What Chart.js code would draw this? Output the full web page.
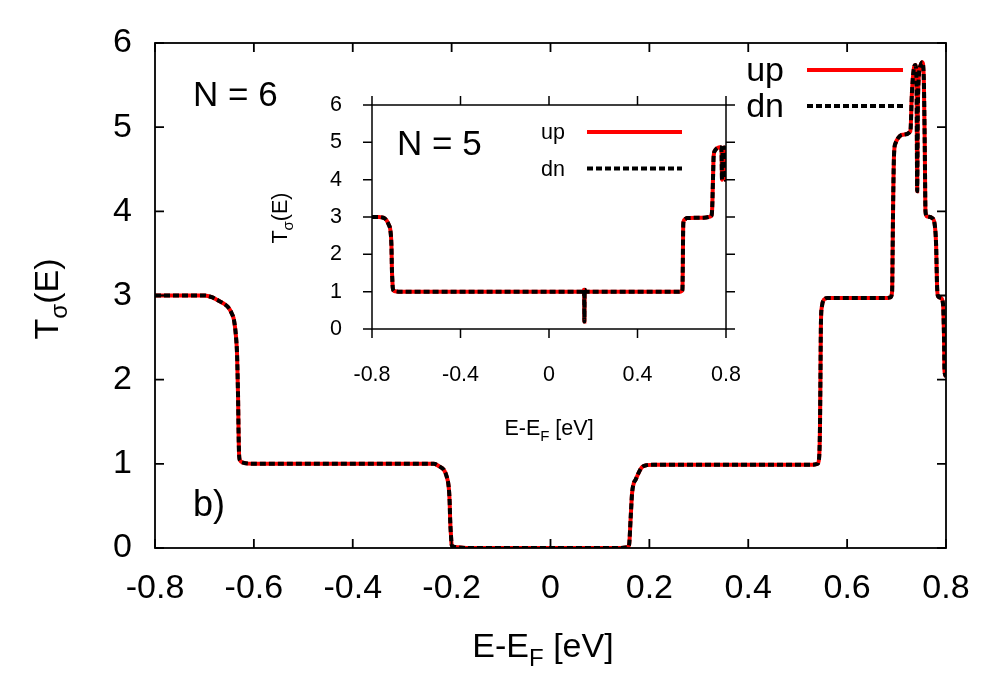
<!DOCTYPE html>
<html><head><meta charset="utf-8">
<script src="https://cdn.jsdelivr.net/npm/chart.js@4"></script>
<style>
html,body{margin:0;padding:0;background:#fff;}
#wrap{position:relative;width:1000px;height:700px;overflow:hidden;background:#fff;}
canvas{position:absolute;}
</style></head><body>
<div id="wrap">
<canvas id="main" width="1000" height="700" style="left:0;top:0"></canvas>
<canvas id="inset" width="510" height="370" style="left:250px;top:80px"></canvas>
</div>
<script>
// ---------- data: N = 6 (main panel) ----------
const energyN6 = [-0.800,-0.700,-0.685,-0.675,-0.660,-0.652,-0.645,-0.640,-0.636,-0.634,-0.632,-0.631,-0.630,-0.628,-0.622,-0.600,
  -0.400,-0.250,-0.236,-0.225,-0.216,-0.210,-0.206,-0.204,-0.203,-0.201,-0.200,-0.196,-0.190,-0.170,
  0.000,0.140,0.155,0.159,0.162,0.165,0.169,0.172,0.178,0.185,0.195,0.209,
  0.400,0.530,0.540,0.543,0.545,0.546,0.547,0.549,0.553,0.560,0.600,
  0.680,0.688,0.691,0.692,0.693,0.695,0.698,0.703,0.712,0.728,0.731,0.735,0.738,0.7405,0.7417,0.743,0.745,0.749,0.752,0.755,0.757,0.7585,0.761,0.772,0.777,0.780,0.782,0.784,0.790,0.794,0.796,0.797,0.800];
const upN6 = [3.00,3.00,2.98,2.95,2.90,2.86,2.79,2.70,2.50,2.30,1.80,1.40,1.12,1.04,1.015,1.00,
  1.00,1.00,1.00,0.97,0.93,0.85,0.73,0.55,0.34,0.12,0.04,0.015,0.01,0.00,
  0.00,0.00,0.01,0.04,0.34,0.65,0.78,0.81,0.89,0.96,0.985,0.99,
  0.99,0.99,1.00,1.05,1.40,2.00,2.67,2.87,2.95,2.97,2.97,
  2.97,2.98,3.05,3.50,4.06,4.69,4.81,4.87,4.91,4.95,5.40,5.70,5.74,5.50,4.24,5.20,5.60,5.74,5.77,5.60,4.80,4.00,3.94,3.92,3.85,3.60,3.10,2.99,2.97,2.90,2.50,2.10,2.04];
const dnN6 = [3.00,3.00,2.98,2.95,2.90,2.86,2.79,2.70,2.50,2.30,1.80,1.40,1.12,1.04,1.015,1.00,
  1.00,1.00,1.00,0.97,0.93,0.85,0.73,0.55,0.34,0.12,0.04,0.015,0.01,0.00,
  0.00,0.00,0.01,0.04,0.34,0.65,0.78,0.81,0.89,0.96,0.985,0.99,
  0.99,0.99,1.00,1.05,1.40,2.00,2.67,2.87,2.95,2.97,2.97,
  2.97,2.98,3.05,3.50,4.06,4.69,4.81,4.87,4.91,4.95,5.40,5.70,5.74,5.50,4.24,5.20,5.60,5.74,5.77,5.60,4.80,4.00,3.94,3.92,3.85,3.60,3.10,2.99,2.97,2.90,2.50,2.10,2.04];

// ---------- data: N = 5 (inset) ----------
const energyN5 = [-0.800,-0.770,-0.755,-0.742,-0.733,-0.725,-0.716,-0.712,-0.710,-0.708,-0.706,-0.702,-0.695,-0.680,
  0.150,0.156,0.158,0.159,0.160,0.161,0.162,0.164,0.170,
  0.590,0.600,0.603,0.605,0.606,0.607,0.612,0.623,0.700,0.729,0.735,0.738,0.742,0.744,0.750,0.759,0.770,0.778,0.780,0.782,0.784,0.788,0.794,0.797,0.800];
const upN5 = [3.00,3.00,2.99,2.96,2.90,2.80,2.60,2.20,1.60,1.30,1.10,1.03,1.01,1.00,
  1.00,1.01,1.05,0.90,0.20,0.90,1.05,1.01,1.00,
  1.00,1.01,1.05,1.80,2.50,2.83,2.93,2.97,2.98,3.01,3.05,3.30,4.20,4.61,4.78,4.84,4.87,4.86,4.70,4.00,4.60,4.85,4.86,4.50,3.95];
const dnN5 = [3.00,3.00,2.99,2.96,2.90,2.80,2.60,2.20,1.60,1.30,1.10,1.03,1.01,1.00,
  1.00,1.01,1.05,0.90,0.20,0.90,1.05,1.01,1.00,
  1.00,1.01,1.05,1.80,2.50,2.83,2.93,2.97,2.98,3.01,3.05,3.30,4.20,4.61,4.78,4.84,4.87,4.86,4.70,4.00,4.60,4.85,4.86,4.50,3.95];

// ---------- ticks & labels ----------
const mainXTicks = [-0.8,-0.6,-0.4,-0.2,0,0.2,0.4,0.6,0.8];
const mainYTicks = [0,1,2,3,4,5,6];
const insetXTicks = [-0.8,-0.4,0,0.4,0.8];
const insetYTicks = [0,1,2,3,4,5,6];
const seriesNames = ['up','dn'];
const mainLabel = 'N = 6';
const insetLabel = 'N = 5';
const panelLabel = 'b)';

const FONT = '"Liberation Sans", Arial, Helvetica, sans-serif';
const fmt = v => String(Math.round(v * 10) / 10);
const pts = (xs, ys) => xs.map((x, i) => ({x: x, y: ys[i]}));

function drawRich(ctx, parts, x, y, align) {
  let w = 0;
  parts.forEach(p => { ctx.font = p.size + 'px ' + FONT; w += ctx.measureText(p.t).width; });
  let cx = align === 'center' ? x - w / 2 : (align === 'right' ? x - w : x);
  ctx.textAlign = 'left';
  ctx.textBaseline = 'alphabetic';
  parts.forEach(p => {
    ctx.font = p.size + 'px ' + FONT;
    ctx.fillText(p.t, cx, y + (p.dy || 0));
    cx += ctx.measureText(p.t).width;
  });
}

function decor(o) {
  return {
    id: 'decor',
    afterDraw(chart) {
      const ctx = chart.ctx, a = chart.chartArea, xs = chart.scales.x, ys = chart.scales.y;
      ctx.save();
      ctx.fillStyle = '#000';
      ctx.strokeStyle = '#000';
      ctx.lineWidth = o.frameW;
      ctx.lineCap = 'butt';
      ctx.strokeRect(a.left, a.top, a.right - a.left, a.bottom - a.top);
      const d = o.inward ? o.tickLen : -o.tickLen;
      ctx.beginPath();
      o.xTicks.forEach(v => {
        const px = xs.getPixelForValue(v);
        ctx.moveTo(px, a.bottom); ctx.lineTo(px, a.bottom - d);
        ctx.moveTo(px, a.top); ctx.lineTo(px, a.top + d);
      });
      o.yTicks.forEach(v => {
        const py = ys.getPixelForValue(v);
        ctx.moveTo(a.left, py); ctx.lineTo(a.left + d, py);
        ctx.moveTo(a.right, py); ctx.lineTo(a.right - d, py);
      });
      ctx.stroke();
      // x title
      drawRich(ctx, [{t:'E-E', size:o.titleSize}, {t:'F', size:o.subSize, dy:o.subDy}, {t:' [eV]', size:o.titleSize}],
        o.xTitle.x, o.xTitle.y, 'center');
      // y title (rotated)
      ctx.save();
      ctx.translate(o.yTitle.x, o.yTitle.y);
      ctx.rotate(-Math.PI / 2);
      drawRich(ctx, [{t:'T', size:o.titleSize}, {t:'σ', size:o.subSize, dy:o.subDy}, {t:'(E)', size:o.titleSize}], 0, 0, 'center');
      ctx.restore();
      // annotations
      o.notes.forEach(n => {
        ctx.font = n.size + 'px ' + FONT;
        ctx.textAlign = 'left'; ctx.textBaseline = 'alphabetic';
        ctx.fillText(n.t, n.x, n.y);
      });
      // legend (text left, sample right, gnuplot style)
      chart.data.datasets.slice().sort((p, q) => p.legendRow - q.legendRow).forEach((ds, i) => {
        const ly = o.legend.y0 + i * o.legend.dy;
        ctx.font = o.legend.size + 'px ' + FONT;
        ctx.textAlign = 'right'; ctx.textBaseline = 'alphabetic';
        ctx.fillStyle = '#000';
        ctx.fillText(ds.label, o.legend.textRight, ly + o.legend.size * 0.33);
        ctx.beginPath();
        ctx.strokeStyle = ds.borderColor;
        ctx.lineWidth = ds.borderWidth;
        ctx.setLineDash(ds.borderDash || []);
        ctx.moveTo(o.legend.x1, ly); ctx.lineTo(o.legend.x2, ly);
        ctx.stroke();
        ctx.setLineDash([]);
      });
      ctx.restore();
    }
  };
}

function scalesFor(o) {
  return {
    x: {
      type: 'linear', min: o.xmin, max: o.xmax,
      afterBuildTicks: s => { s.ticks = o.xTicks.map(v => ({value: v})); },
      afterFit: s => { s.height = o.xH; s.paddingLeft = 0; s.paddingRight = 0; },
      grid: {display: false, drawTicks: false}, border: {display: false},
      ticks: {font: {family: FONT, size: o.tickSize}, color: '#000', padding: o.xPad, maxRotation: 0, autoSkip: false, callback: v => fmt(v)}
    },
    y: {
      type: 'linear', min: 0, max: 6,
      afterBuildTicks: s => { s.ticks = o.yTicks.map(v => ({value: v})); },
      afterFit: s => { s.width = o.yW; s.paddingTop = 0; s.paddingBottom = 0; },
      grid: {display: false, drawTicks: false}, border: {display: false},
      ticks: {font: {family: FONT, size: o.tickSize}, color: '#000', padding: o.yPad, autoSkip: false, callback: v => fmt(v)}
    }
  };
}

function datasets(xs, up, dn) {
  return [
    {label: seriesNames[0], data: pts(xs, up), borderColor: '#ff0000', borderWidth: 4, pointRadius: 0,
     cubicInterpolationMode: 'monotone', order: 2, legendRow: 0, fill: false},
    {label: seriesNames[1], data: pts(xs, dn), borderColor: '#000000', borderWidth: 4, borderDash: [6, 3], pointRadius: 0,
     cubicInterpolationMode: 'monotone', order: 1, legendRow: 1, fill: false}
  ];
}

const common = {
  responsive: false, animation: false, devicePixelRatio: 1,
  plugins: {legend: {display: false}, tooltip: {enabled: false}}
};

// main chart: chart area 155..946 x 43..548
const mainOpt = {
  xmin: -0.8, xmax: 0.8, xTicks: mainXTicks, yTicks: mainYTicks,
  xH: 152, yW: 155, tickSize: 34, xPad: 20, yPad: 23,
  frameW: 1.8, tickLen: 9, inward: true,
  titleSize: 34, subSize: 24, subDy: 9,
  xTitle: {x: 543, y: 657}, yTitle: {x: 58, y: 299},
  notes: [{t: mainLabel, size: 35, x: 193, y: 106}, {t: panelLabel, size: 36, x: 193, y: 516}],
  legend: {size: 34, textRight: 784, x1: 807, x2: 903, y0: 70, dy: 36}
};
new Chart(document.getElementById('main'), {
  type: 'line',
  data: {datasets: datasets(energyN6, upN6, dnN6)},
  options: Object.assign({}, common, {
    layout: {padding: {top: 43, right: 54, left: 0, bottom: 0}},
    scales: scalesFor(mainOpt)
  }),
  plugins: [decor(mainOpt)]
});

// inset chart: canvas at (250,80); chart area 372..726 x 105..329 in page coords
const insetOpt = {
  xmin: -0.8, xmax: 0.8, xTicks: insetXTicks, yTicks: insetYTicks,
  xH: 121, yW: 122, tickSize: 21.5, xPad: 33, yPad: 30,
  frameW: 1.5, tickLen: 9, inward: false,
  titleSize: 21.5, subSize: 15, subDy: 6,
  xTitle: {x: 299, y: 355}, yTitle: {x: 37, y: 138},
  notes: [{t: insetLabel, size: 35, x: 147, y: 75}],
  legend: {size: 21.5, textRight: 315, x1: 337, x2: 432, y0: 52, dy: 36.5}
};
new Chart(document.getElementById('inset'), {
  type: 'line',
  data: {datasets: datasets(energyN5, upN5, dnN5)},
  options: Object.assign({}, common, {
    layout: {padding: {top: 25, right: 34, left: 0, bottom: 0}},
    scales: scalesFor(insetOpt)
  }),
  plugins: [decor(insetOpt)]
});
</script>
</body></html>
